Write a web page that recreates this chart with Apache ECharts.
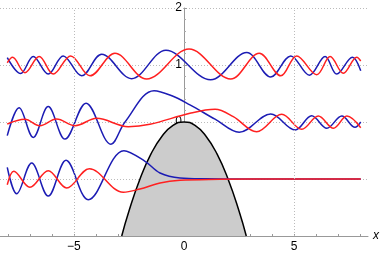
<!DOCTYPE html>
<html><head><meta charset="utf-8">
<script src="https://cdn.jsdelivr.net/npm/echarts@6/dist/echarts.min.js"></script>
<style>html,body{margin:0;padding:0;background:#fff}#c{width:381px;height:256px}</style>
</head><body><div id="c"></div>
<script>
// x tick labels and y tick labels
const xTickLabels = [-5, 0, 5];
const xMinorTicks = [-8,-7,-6,-5,-4,-3,-2,-1,0,1,2,3,4,5,6,7,8];
const xGridLines = [-5, 5];
// potential (black, filled)
const potX = [-2.83,-2.5,-2,-1.5,-1,-0.5,0,0.5,1,1.5,2,2.5,2.83];
const potY = [-2,-1.56,-1,-0.56,-0.25,-0.06,0,-0.06,-0.25,-0.56,-1,-1.56,-2];
// level E = 1
const blueTop = [[-8.03,1.13],[-7.42,0.85],[-6.85,1.15],[-6.17,0.84],[-5.49,1.16],[-4.65,0.81],[-3.74,1.19],[-2.38,0.76],[-0.82,1.26],[1.21,0.74],[2.85,1.22],[3.94,0.79],[4.85,1.16],[5.70,0.82],[6.41,1.15],[6.94,0.84],[7.65,1.135],[8.03,0.9]];
const redTop = [[-8.03,1.04],[-7.79,1.135],[-7.23,0.865],[-6.58,1.15],[-5.94,0.84],[-5.15,1.16],[-4.27,0.81],[-3.14,1.205],[-1.70,0.754],[0.23,1.28],[2.12,0.754],[3.42,1.205],[4.40,0.81],[5.12,1.16],[6.03,0.83],[6.64,1.15],[7.24,0.855],[7.85,1.135],[8.03,1.07]];
// level E = 0
const blueMid = [[-8.03,-0.24],[-7.49,0.25],[-6.85,-0.27],[-6.17,0.27],[-5.41,-0.30],[-4.45,0.33],[-3.32,-0.39],[-2.68,0],[-1.36,0.55],[-0.55,0.46],[0.27,0.30],[1.41,0.05],[2.51,-0.18],[3.94,0.14],[5.05,-0.14],[5.80,0.11],[6.49,-0.11],[7.17,0.105],[7.77,-0.093],[8.03,0]];
const redMid = [[-8.03,-0.035],[-7.23,0.047],[-6.55,-0.065],[-5.79,0.053],[-4.95,-0.065],[-3.97,0.065],[-2.53,-0.082],[-1.55,-0.04],[0.27,0.153],[1.41,0.223],[2.24,0.093],[3.30,-0.17],[4.44,0.135],[5.35,-0.128],[6.10,0.105],[6.79,-0.11],[7.40,0.105],[8.03,-0.1]];
// level E = -1
const blueLow = [[-8.03,-0.795],[-7.6,-1.26],[-6.92,-0.72],[-6.17,-1.30],[-5.36,-0.672],[-4.35,-1.363],[-2.73,-0.504],[-1.77,-0.689],[-1.09,-0.895],[-0.18,-0.982],[1.0,-0.996],[3,-1.0],[8.03,-1.0]];
const redLow = [[-8.03,-1.10],[-7.73,-0.865],[-7.0,-1.146],[-6.17,-0.854],[-5.33,-1.158],[-4.30,-0.819],[-2.76,-1.233],[-2.0,-1.175],[-1.09,-1.07],[-0.18,-1.023],[1.64,-1.005],[3,-1.0],[8.03,-1.0]];

const BLUE = '#1c1cb4', RED = '#ff2020';
const minus = v => String(v).replace('-', '\u2212');
const chart = echarts.init(document.getElementById('c'), null, {renderer: 'canvas'});
const lineS = (data, color) => ({type:'line', data, smooth:0.36, symbol:'none', lineStyle:{color, width:1.5}, z:3});
chart.setOption({
  animation: false,
  grid: {left: 0, right: 13, top: 8, bottom: 20, containLabel: false, outerBoundsMode: 'none'},
  xAxis: {
    type: 'value', min: -8.36, max: 8.36,
    name: 'x', nameLocation: 'end', nameGap: 5,
    nameTextStyle: {fontFamily: 'Liberation Sans', fontStyle: 'italic', fontSize: 12, color: '#000'},
    axisLine: {onZero: false, lineStyle: {color: '#999', width: 1}},
    axisTick: {show: true, inside: true, length: 2, customValues: xMinorTicks, lineStyle: {color: '#999'}},
    axisLabel: {customValues: xTickLabels, formatter: minus, margin: 5, color: '#000', fontSize: 12, fontFamily: 'Liberation Sans'},
    splitLine: {show: false}
  },
  yAxis: {
    type: 'value', min: -2, max: 2, interval: 1, position: 'left', offset: -184,
    axisLine: {onZero: false, lineStyle: {color: '#999', width: 1}},
    axisTick: {show: true, inside: true, length: 3, lineStyle: {color: '#999'}},
    minorTick: {show: true, splitNumber: 5, length: 2, lineStyle: {color: '#aaa'}},
    axisLabel: {showMinLabel: false, formatter: minus, margin: 2, color: '#000', fontSize: 12, fontFamily: 'Liberation Sans', backgroundColor: '#fff'},
    splitLine: {show: true, lineStyle: {color: '#bbb', type: [1, 2], width: 1}}
  },
  series: [
    {type:'line', data: potX.map((x,i)=>[x, potY[i]]), smooth: true, symbol:'none',
     lineStyle:{color:'#000', width:1.5}, areaStyle:{color:'#cccccc', origin:'start', opacity:1}, z:2,
     markLine: {silent: true, symbol: 'none', label: {show: false},
       lineStyle: {color: '#bbb', type: [1, 2], width: 1},
       data: xGridLines.map(v => ({xAxis: v}))}},
    lineS(blueTop, BLUE), lineS(redTop, RED),
    lineS(blueMid, BLUE), lineS(redMid, RED),
    lineS(blueLow, BLUE), lineS(redLow, RED)
  ]
});
</script></body></html>
